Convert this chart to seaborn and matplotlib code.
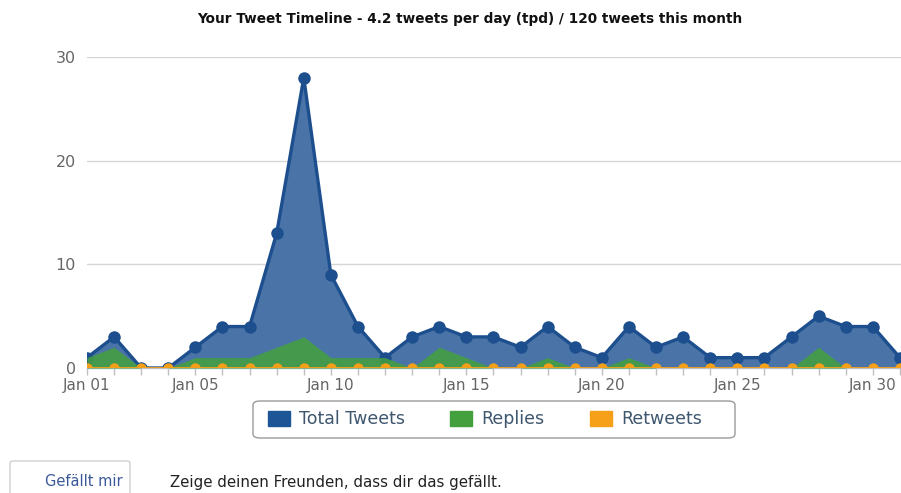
import matplotlib
matplotlib.use("Agg")
import matplotlib.pyplot as plt
import pandas as pd
import seaborn as sns
from matplotlib.patches import Patch, FancyBboxPatch
from matplotlib.path import Path

# Daily tweet counts for January
days = list(range(1, 32))
total_tweets = [1, 3, 0, 0, 2, 4, 4, 13, 28, 9, 4, 1, 3, 4, 3, 3,
                2, 4, 2, 1, 4, 2, 3, 1, 1, 1, 3, 5, 4, 4, 1]
replies = [1, 2, 0, 0, 1, 1, 1, 2, 3, 1, 1, 1, 0, 2, 1, 0,
           0, 1, 0, 0, 1, 0, 0, 0, 0, 0, 0, 2, 0, 0, 0]
retweets = [0, 0, 0, 0, 0, 0, 0, 0, 0, 0, 0, 0, 0, 0, 0, 0,
            0, 0, 0, 0, 0, 0, 0, 0, 0, 0, 0, 0, 0, 0, 0]

tick_days = [1, 5, 10, 15, 20, 25, 30]
tick_labels = ["Jan 01", "Jan 05", "Jan 10", "Jan 15", "Jan 20", "Jan 25", "Jan 30"]
y_ticks = [0, 10, 20, 30]

series_names = ["Total Tweets", "Replies", "Retweets"]

df = pd.DataFrame({"day": days, "Total Tweets": total_tweets,
                   "Replies": replies, "Retweets": retweets})

sns.set_theme(style="white")
plt.rcParams["font.family"] = ["DejaVu Sans"]

BLUE_LINE = "#1d4f8e"
BLUE_FILL = "#4a74a8"
BLUE_KEY = "#1d5597"
GREEN = "#43a03d"
ORANGE = "#f6a01a"
LABEL = "#666666"

W, H = 901, 493
fig = plt.figure(figsize=(W / 100, H / 100), dpi=100)
ax = fig.add_axes([87 / W, 125 / H, 814 / W, 311 / H])

# Pixel-exact clipping to the plot area (markers at the edges are cut in half)
plot_area = Path([[0, 0], [1, 0], [1, 1], [0, 1], [0, 0]])

# Total tweets area
ax.fill_between(df["day"], df["Total Tweets"], 0, color=BLUE_FILL, lw=0, zorder=2)
sns.lineplot(data=df, x="day", y="Total Tweets", ax=ax, color=BLUE_LINE,
             linewidth=2.4, marker="o", markersize=9, markeredgewidth=0,
             markerfacecolor=BLUE_LINE, zorder=3)

# Replies area
ax.fill_between(df["day"], df["Replies"], 0, color=GREEN, alpha=0.85, lw=0, zorder=4)

# Retweets along the baseline
sns.lineplot(data=df, x="day", y="Retweets", ax=ax, color=ORANGE,
             linewidth=2.0, marker="o", markersize=7.5, markeredgewidth=0,
             markerfacecolor=ORANGE, zorder=5)

for line in ax.get_lines():
    line.set_clip_path(plot_area, ax.transAxes)

ax.set_xlim(1, 31.04)
ax.set_ylim(0, 30)
ax.set_xlabel("")
ax.set_ylabel("")

ax.set_yticks(y_ticks)
ax.set_yticklabels([str(v) for v in y_ticks])
ax.tick_params(axis="y", length=0, pad=8, labelsize=11.5, labelcolor=LABEL)
ax.yaxis.grid(True, color="#d6d6d6", linewidth=1)
ax.set_axisbelow(True)

ax.set_xticks(tick_days)
ax.set_xticklabels(tick_labels)
ax.set_xticks(days, minor=True)
ax.tick_params(axis="x", which="both", direction="out", length=5, width=1,
               color="#c0c0c0", bottom=True, pad=2, labelsize=11, labelcolor=LABEL)

for side in ["left", "right", "top"]:
    ax.spines[side].set_visible(False)
ax.spines["bottom"].set_color("#c0c0c0")
ax.spines["bottom"].set_linewidth(1)

# Title
fig.text(470 / W, 1 - 19 / H,
         "Your Tweet Timeline - 4.2 tweets per day (tpd) / 120 tweets this month",
         ha="center", va="center", fontsize=9.8, fontweight="bold", color="#111111")

# Legend: rounded frame plus the three items
legend_box = FancyBboxPatch((253 / W, 1 - 438 / H), 482 / W, 37 / H,
                            boxstyle="round,pad=0,rounding_size=0.008",
                            transform=fig.transFigure, facecolor="white",
                            edgecolor="#9a9a9a", linewidth=1)
fig.patches.append(legend_box)
handles = [Patch(facecolor=BLUE_KEY, edgecolor=BLUE_KEY),
           Patch(facecolor=GREEN, edgecolor=GREEN),
           Patch(facecolor=ORANGE, edgecolor=ORANGE)]
leg = fig.legend(handles, series_names, loc="center left", ncol=3,
                 bbox_to_anchor=(268 / W, 1 - 419.5 / H),
                 fontsize=12.5, frameon=False,
                 handlelength=1.25, handleheight=1.0, handletextpad=0.55,
                 columnspacing=2.6, borderpad=0, borderaxespad=0,
                 labelcolor="#3e576f")

# "Gefällt mir" button and caption
btn = FancyBboxPatch((10 / W, -10 / H), 120 / W, 42 / H,
                     boxstyle="round,pad=0,rounding_size=0.004",
                     transform=fig.transFigure, facecolor="white",
                     edgecolor="#d0d0d0", linewidth=1)
fig.patches.append(btn)
fig.text(45 / W, 1 - 482 / H, "Gefällt mir", ha="left", va="center",
         fontsize=10.5, color="#3b5998")
fig.text(170 / W, 1 - 482 / H, "Zeige deinen Freunden, dass dir das gefällt.",
         ha="left", va="center", fontsize=10.8, color="#222222")

fig.savefig("out.png", dpi=100)
